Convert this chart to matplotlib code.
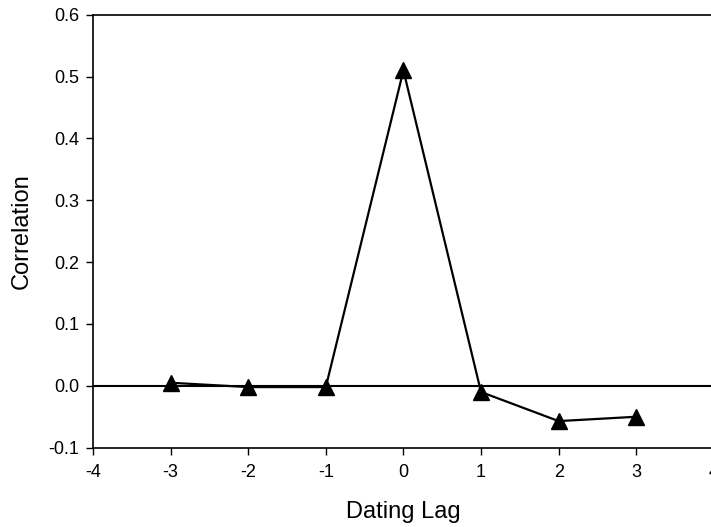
import matplotlib
matplotlib.use("Agg")
import matplotlib.pyplot as plt

lag = [-3, -2, -1, 0, 1, 2, 3]
corr = [0.005, -0.002, -0.002, 0.51, -0.01, -0.057, -0.05]
xticks = [-4, -3, -2, -1, 0, 1, 2, 3, 4]
yticks = [-0.1, 0.0, 0.1, 0.2, 0.3, 0.4, 0.5, 0.6]

plt.rcParams.update({'font.family': 'Liberation Sans'})

fig = plt.figure(figsize=(7.11, 5.27), dpi=100)
ax = fig.add_axes([0.1308, 0.1505, 0.8732, 0.8216])

ax.axhline(0, color='black', linewidth=1.5, zorder=1)
ax.plot(lag, corr, color='black', linewidth=1.6, marker='^', markersize=11, zorder=3)

ax.set_xlim(-4, 4)
ax.set_ylim(-0.1, 0.6)
ax.set_xticks(xticks)
ax.set_xticklabels([str(t) for t in xticks])
ax.set_yticks(yticks)
ax.set_yticklabels([f"{t:.1f}" for t in yticks])
ax.tick_params(direction='out', length=5, width=1, labelsize=13)
ax.tick_params(axis='x', pad=7)
ax.tick_params(axis='y', pad=5)
ax.spines['right'].set_visible(False)
for s in ['left', 'bottom', 'top']:
    ax.spines[s].set_linewidth(1.2)

ax.set_xlabel("Dating Lag", fontsize=17, labelpad=14)
ax.set_ylabel("Correlation", fontsize=17, labelpad=11)

fig.savefig("out.png", dpi=100)
